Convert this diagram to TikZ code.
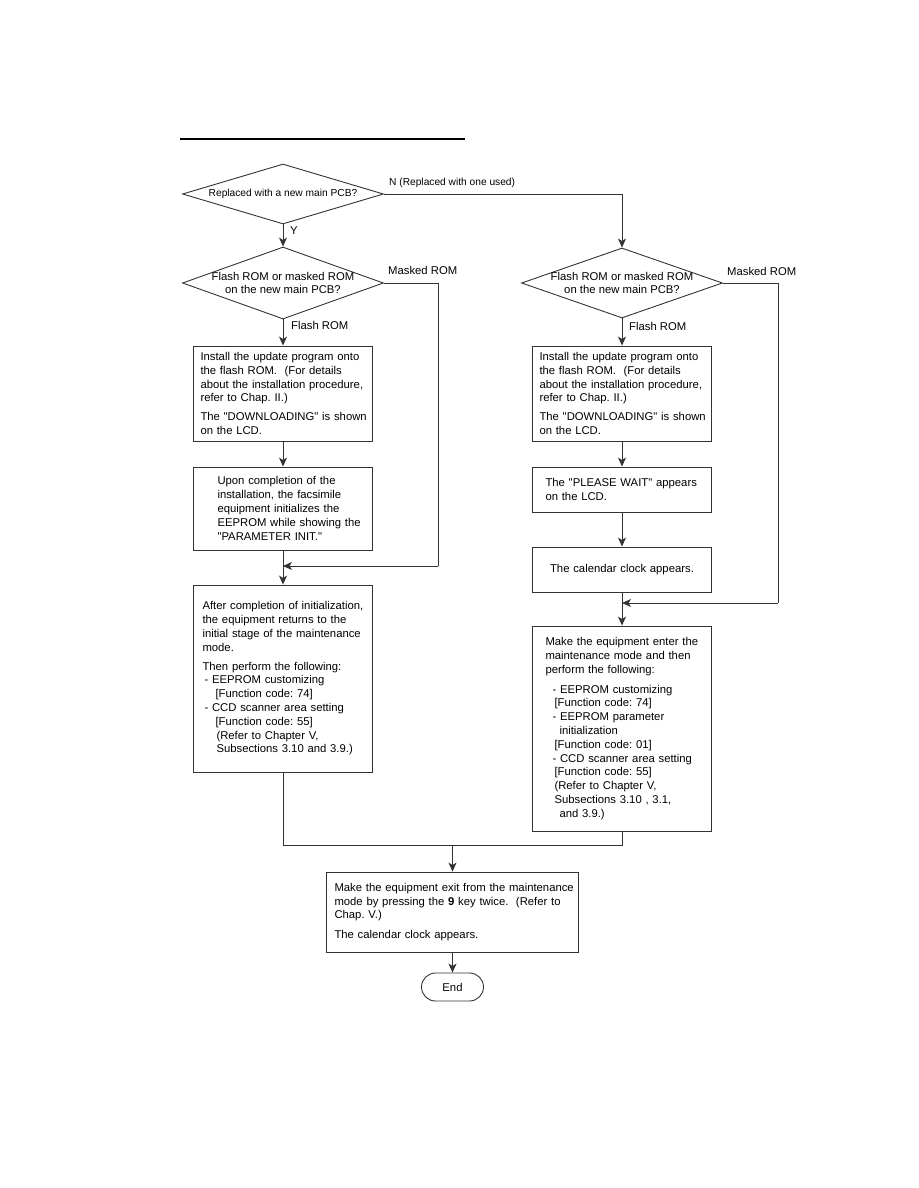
\documentclass[tikz,border=0pt]{standalone}
\usepackage{fontspec}
\setmainfont{Liberation Sans}
\usetikzlibrary{shapes.geometric,arrows.meta}

\newcommand{\pad}[1]{\leftskip=#1\relax}
\newcommand{\ind}[1]{\hspace*{#1}}
\newcommand{\qt}[1]{\textquotedbl#1\textquotedbl}
\frenchspacing

\begin{document}
\begin{tikzpicture}[
    x=1pt, y=-1pt,
    font=\fontsize{11.3pt}{13.8pt}\selectfont,
    line/.style={draw=black!80, line width=0.9pt},
    flow/.style={line, -{Stealth[length=9pt,width=8pt,inset=2.5pt]}},
    procbox/.style={rectangle, line, inner sep=0pt, align=left, text width=#1, minimum width=#1},
    procbox/.default=179pt,
    decision/.style={diamond, line, inner sep=0pt, minimum width=201pt},
    dtext/.style={align=center, font=\fontsize{11.3pt}{12.8pt}\selectfont},
    tag/.style={anchor=west, inner sep=0pt},
    terminal/.style={rectangle, rounded corners=14pt, line, minimum width=62pt, minimum height=28pt, inner sep=0pt}
]
\useasboundingbox (0,0) rectangle (918,1188);

% heading rule
\draw[line width=2.5pt] (180,139) -- (465,139);

% decisions
\node[decision, minimum height=60pt] (dec1) at (283,194) {};
\node[dtext, font=\fontsize{10.2pt}{12pt}\selectfont] at (dec1) {Replaced with a new main PCB?};
\node[decision, minimum height=72pt] (dec2) at (283,283) {};
\node[dtext] at (dec2) {Flash ROM or masked ROM\\on the new main PCB?};
\node[decision, minimum height=70pt] (dec3) at (622,283) {};
\node[dtext] at (dec3) {Flash ROM or masked ROM\\on the new main PCB?};

% left branch
\node[procbox, minimum height=95pt] (lb1) at (283,393.5) {\pad{7pt}Install the update program onto\\
the flash ROM.\ \ (For details\\
about the installation procedure,\\
refer to Chap. II.)\\[5pt]
The \qt{DOWNLOADING} is shown\\
on the LCD.\par};
\node[procbox, minimum height=83pt] (lb2) at (283,508.5) {\pad{24pt}Upon completion of the\\
installation, the facsimile\\
equipment initializes the\\
EEPROM while showing the\\
\qt{PARAMETER INIT.}\par};
\node[procbox, minimum height=187pt] (lb3) at (283,678.5) {\pad{9pt}After completion of initialization,\\
the equipment returns to the\\
initial stage of the maintenance\\
mode.\\[5pt]
Then perform the following:\\
\ind{2pt}- EEPROM customizing\\
\ind{13pt}[Function code: 74]\\
\ind{2pt}- CCD scanner area setting\\
\ind{13pt}[Function code: 55]\\
\ind{14pt}(Refer to Chapter V,\\
\ind{14pt}Subsections 3.10 and 3.9.)\par};

% right branch
\node[procbox, minimum height=95pt] (rb1) at (622,393.5) {\pad{7pt}Install the update program onto\\
the flash ROM.\ \ (For details\\
about the installation procedure,\\
refer to Chap. II.)\\[5pt]
The \qt{DOWNLOADING} is shown\\
on the LCD.\par};
\node[procbox, minimum height=45pt] (rb2) at (622,489.5) {\pad{13pt}The \qt{PLEASE WAIT} appears\\
on the LCD.\par};
\node[procbox, minimum height=45pt, align=center] (rb3) at (622,569.5) {The calendar clock appears.};
\node[procbox, minimum height=205pt] (rb4) at (622,728.5) {\pad{13pt}Make the equipment enter the\\
maintenance mode and then\\
perform the following:\\[6pt]
\ind{7pt}- EEPROM customizing\\
\ind{9pt}[Function code: 74]\\
\ind{7pt}- EEPROM parameter\\
\ind{14pt}initialization\\
\ind{9pt}[Function code: 01]\\
\ind{7pt}- CCD scanner area setting\\
\ind{9pt}[Function code: 55]\\
\ind{9pt}(Refer to Chapter V,\\
\ind{9pt}Subsections 3.10 , 3.1,\\
\ind{14pt}and 3.9.)\par};

% final steps
\node[procbox=252pt, minimum height=80pt] (fin) at (452.5,912) {\pad{8pt}Make the equipment exit from the maintenance\\
mode by pressing the \textbf{9} key twice.\ \ (Refer to\\
Chap. V.)\\[6pt]
The calendar clock appears.\par};
\node[terminal] (stop) at (452.5,987) {End};

% junctions
\coordinate (ml) at (438,566);
\coordinate (jl) at (283,566);
\coordinate (mr) at (778,603);
\coordinate (jr) at (622,603);
\coordinate (jb) at (452.5,845);

% connectors
\draw[flow] (dec1) -- (dec2);
\draw[flow] (dec1.east) -| (dec3.north);
\draw[flow] (dec2) -- (lb1);
\draw[flow] (lb1) -- (lb2);
\draw[flow] (lb2) -- (lb3);
\draw[line] (dec2.east) -| (ml);
\draw[flow] (ml) -- (jl);
\draw[flow] (dec3) -- (rb1);
\draw[flow] (rb1) -- (rb2);
\draw[flow] (rb2) -- (rb3);
\draw[flow] (rb3) -- (rb4);
\draw[line] (dec3.east) -| (mr);
\draw[flow] (mr) -- (jr);
\draw[line] (lb3.south) |- (jb) -| (rb4.south);
\draw[flow] (jb) -- (fin);
\draw[flow] (fin) -- (stop);

% branch labels
\node[tag] at (290,231) {Y};
\node[tag, font=\fontsize{10.2pt}{12pt}\selectfont] at (389,183) {N (Replaced with one used)};
\node[tag] at (388,270.5) {Masked ROM};
\node[tag] at (291,325) {Flash ROM};
\node[tag] at (727,271) {Masked ROM};
\node[tag] at (629,326) {Flash ROM};

\end{tikzpicture}
\end{document}
